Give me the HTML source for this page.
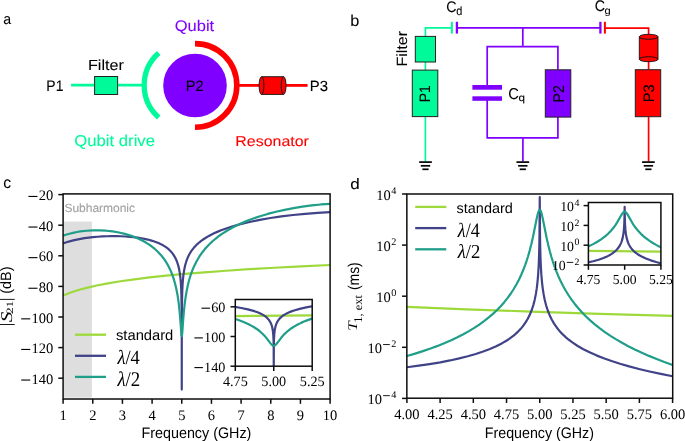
<!DOCTYPE html><html><head><meta charset="utf-8"><style>html,body{margin:0;padding:0;background:#fff;width:685px;height:441px;overflow:hidden}svg{display:block;will-change:transform}</style></head><body><svg width="685" height="441" viewBox="0 0 685 441"><defs><clipPath id="cc"><rect x="63.1" y="193.9" width="267.0" height="205.1"/></clipPath><clipPath id="ci"><rect x="235.3" y="299.5" width="76.89999999999998" height="66.69999999999999"/></clipPath><clipPath id="dc"><rect x="406.85" y="194.0" width="265.85" height="204.2"/></clipPath><clipPath id="di"><rect x="588.4" y="202.5" width="72.5" height="62.5"/></clipPath></defs><rect width="685" height="441" fill="#fff"/><line x1="71.1" y1="85.2" x2="143" y2="85.2" stroke="#00fa9a" stroke-width="2.7"/>
<rect x="94.6" y="76.5" width="23" height="18" fill="#00fa9a" stroke="#222" stroke-width="1"/>
<path d="M158.71,117.51 A43.0,43.0 0 0 1 158.71,53.09" fill="none" stroke="#00fa9a" stroke-width="5.3"/>
<circle cx="195" cy="85.5" r="31.8" fill="#7f00ff"/>
<path d="M195.00,43.60 A41.8,41.8 0 0 1 195.00,127.20" fill="none" stroke="#ff0000" stroke-width="5.6"/>
<line x1="238" y1="85.4" x2="260" y2="85.4" stroke="#ff0000" stroke-width="2.8"/>
<line x1="285" y1="85.4" x2="307.6" y2="85.4" stroke="#ff0000" stroke-width="2.8"/>
<path d="M261.5,76.7 L283.6,76.7 A2.4,8.85 0 0 1 283.6,94.4 L261.5,94.4 A2.4,8.85 0 0 1 261.5,76.7 Z" fill="#ff0000" stroke="#111" stroke-width="0.9"/><path d="M261.5,76.7 A2.4,8.85 0 0 1 261.5,94.4" fill="none" stroke="#111" stroke-width="0.9"/><path d="M283.6,76.7 A2.4,8.85 0 0 0 283.6,94.4" fill="none" stroke="#111" stroke-width="0.9"/>
<polyline points="425.4,36.5 425.4,27.9 452,27.9" fill="none" stroke="#00fa9a" stroke-width="1.7"/>
<line x1="425.4" y1="62" x2="425.4" y2="70.1" stroke="#00fa9a" stroke-width="1.7"/>
<line x1="425.4" y1="116.6" x2="425.4" y2="161.4" stroke="#00fa9a" stroke-width="1.7"/>
<line x1="451.9" y1="21.8" x2="451.9" y2="33.6" stroke="#00fa9a" stroke-width="2.0"/>
<line x1="456.9" y1="21.8" x2="456.9" y2="33.6" stroke="#7f00ff" stroke-width="2.3"/>
<line x1="456.9" y1="27.9" x2="600.4" y2="27.9" stroke="#7f00ff" stroke-width="1.7"/>
<line x1="522.8" y1="27.9" x2="522.8" y2="46.7" stroke="#7f00ff" stroke-width="1.7"/>
<polyline points="487.2,87 487.2,46.7 557.9,46.7 557.9,69.8" fill="none" stroke="#7f00ff" stroke-width="1.7"/>
<polyline points="487.2,98.5 487.2,137.8 557.9,137.8 557.9,117.1" fill="none" stroke="#7f00ff" stroke-width="1.7"/>
<line x1="522.9" y1="137.8" x2="522.9" y2="161.4" stroke="#7f00ff" stroke-width="1.7"/>
<rect x="472.4" y="85" width="29.6" height="4.7" fill="#7f00ff"/>
<rect x="472.4" y="96.3" width="29.6" height="4.5" fill="#7f00ff"/>
<line x1="600.4" y1="21.8" x2="600.4" y2="33.6" stroke="#7f00ff" stroke-width="2.3"/>
<line x1="604.9" y1="21.8" x2="604.9" y2="33.6" stroke="#ff0000" stroke-width="2.0"/>
<polyline points="604.9,28.2 648.6,28.2 648.6,37" fill="none" stroke="#ff0000" stroke-width="1.7"/>
<line x1="648.6" y1="59" x2="648.6" y2="69.7" stroke="#ff0000" stroke-width="1.7"/>
<line x1="648.6" y1="116.7" x2="648.6" y2="161.4" stroke="#ff0000" stroke-width="1.7"/>
<rect x="415.3" y="36.4" width="20.2" height="25.6" fill="#00fa9a" stroke="#222" stroke-width="1"/>
<rect x="412.3" y="70.1" width="25.5" height="46.5" fill="#00fa9a" stroke="#222" stroke-width="1"/>
<rect x="545.3" y="69.8" width="25.5" height="47.3" fill="#7f00ff" stroke="#222" stroke-width="1"/>
<rect x="635.3" y="69.7" width="25.4" height="47" fill="#ff0000" stroke="#222" stroke-width="1"/>
<path d="M639.3,36.8 A9.35,2.5 0 0 1 658,36.8 L658,59.2 A9.35,2.5 0 0 1 639.3,59.2 Z" fill="#ff0000" stroke="#111" stroke-width="0.9"/>
<path d="M639.3,36.8 A9.35,2.5 0 0 0 658,36.8" fill="none" stroke="#111" stroke-width="0.9"/>
<path d="M639.3,59.2 A9.35,2.5 0 0 1 658,59.2" fill="none" stroke="#111" stroke-width="0.9"/>
<line x1="419.15" y1="162.1" x2="431.85" y2="162.1" stroke="#000" stroke-width="1.7"/>
<line x1="420.8" y1="165.8" x2="430.2" y2="165.8" stroke="#000" stroke-width="1.7"/>
<line x1="422.4" y1="169.3" x2="428.6" y2="169.3" stroke="#000" stroke-width="1.7"/>
<line x1="516.45" y1="162.1" x2="529.15" y2="162.1" stroke="#000" stroke-width="1.7"/>
<line x1="518.1" y1="165.8" x2="527.5" y2="165.8" stroke="#000" stroke-width="1.7"/>
<line x1="519.7" y1="169.3" x2="525.9" y2="169.3" stroke="#000" stroke-width="1.7"/>
<line x1="642.05" y1="162.1" x2="654.75" y2="162.1" stroke="#000" stroke-width="1.7"/>
<line x1="643.7" y1="165.8" x2="653.1" y2="165.8" stroke="#000" stroke-width="1.7"/>
<line x1="645.3" y1="169.3" x2="651.5" y2="169.3" stroke="#000" stroke-width="1.7"/>
<rect x="63.8" y="221.6" width="28.10" height="176.00" fill="#dedede"/>
<polyline points="63.10,295.58 66.37,294.19 69.93,292.83 73.79,291.49 77.65,290.28 82.11,289.00 86.56,287.84 96.66,285.52 107.95,283.34 120.42,281.28 134.38,279.31 149.53,277.45 166.16,275.67 184.49,273.95 204.47,272.30 225.86,270.73 249.02,269.22 274.27,267.75 301.29,266.34 330.10,264.98" fill="none" stroke="#9dd93a" stroke-width="2.2" stroke-linejoin="round" clip-path="url(#cc)"/>
<polyline points="63.10,243.46 66.37,242.32 69.63,241.34 73.20,240.40 76.76,239.59 80.62,238.84 84.48,238.20 88.64,237.63 93.10,237.12 97.55,236.73 102.30,236.43 107.06,236.23 111.81,236.14 116.56,236.16 121.02,236.27 125.47,236.49 129.93,236.81 133.79,237.20 137.65,237.68 141.21,238.24 144.48,238.84 147.75,239.56 150.72,240.33 153.69,241.23 156.36,242.18 159.03,243.28 161.41,244.41 163.49,245.56 165.56,246.88 167.35,248.19 169.13,249.71 170.64,251.20 172.10,252.88 173.88,255.36 175.50,258.22 176.85,261.27 178.05,264.84 179.05,268.88 179.78,272.95 180.39,277.74 180.86,283.23 181.17,288.74 181.39,294.96 181.66,310.88 181.75,334.46 181.77,389.55 181.79,332.37 181.91,308.08 182.23,292.10 182.51,285.83 182.89,280.25 183.47,274.65 184.22,269.73 185.17,265.29 186.36,261.20 187.84,257.35 189.49,254.02 191.40,250.92 193.78,247.81 195.48,245.92 197.34,244.09 199.42,242.27 201.50,240.65 203.88,238.98 206.25,237.46 208.93,235.92 211.60,234.51 214.57,233.07 217.84,231.63 221.10,230.31 224.67,228.98 232.09,226.52 240.41,224.18 249.62,221.96 259.71,219.89 270.41,218.03 281.39,216.43 292.98,215.03 305.16,213.83 317.63,212.88 330.10,212.19" fill="none" stroke="#404387" stroke-width="2.2" stroke-linejoin="round" clip-path="url(#cc)"/>
<polyline points="63.10,235.71 65.77,234.78 68.45,233.96 74.09,232.56 77.06,231.98 80.33,231.45 86.56,230.73 93.10,230.36 99.63,230.36 106.17,230.72 112.70,231.45 118.94,232.52 124.88,233.90 130.52,235.58 133.49,236.63 136.16,237.68 141.21,239.98 143.59,241.22 145.96,242.57 148.34,244.06 150.42,245.48 152.50,247.03 154.58,248.72 157.84,251.72 160.81,254.90 163.49,258.23 166.16,262.14 168.24,265.72 170.32,269.93 172.25,274.64 173.88,279.43 175.17,283.97 176.41,289.28 177.45,294.70 178.34,300.43 179.05,306.06 179.67,312.04 180.31,319.57 181.31,333.17 181.56,335.45 181.67,335.97 181.77,336.12 181.88,335.91 181.99,335.35 182.23,333.10 183.30,318.35 183.98,310.50 184.63,304.40 185.46,298.07 186.60,291.22 187.72,285.76 189.03,280.48 190.51,275.50 192.33,270.43 194.37,265.64 196.75,260.95 199.42,256.46 202.39,252.21 205.36,248.51 208.63,244.95 212.49,241.26 216.95,237.54 219.32,235.74 222.00,233.86 227.34,230.46 232.98,227.30 239.22,224.22 245.75,221.38 252.59,218.75 260.01,216.23 267.73,213.93 276.05,211.76 284.66,209.82 293.57,208.10 302.48,206.65 311.69,205.43 320.90,204.47 330.10,203.78" fill="none" stroke="#1f9e89" stroke-width="2.2" stroke-linejoin="round" clip-path="url(#cc)"/>
<line x1="75" y1="334.7" x2="106" y2="334.7" stroke="#9dd93a" stroke-width="2.3"/>
<line x1="75" y1="355.8" x2="106" y2="355.8" stroke="#404387" stroke-width="2.3"/>
<line x1="75" y1="376.9" x2="106" y2="376.9" stroke="#1f9e89" stroke-width="2.3"/>
<rect x="235.3" y="299.5" width="76.89999999999998" height="66.69999999999999" fill="#fff"/>
<polyline points="233.76,316.07 313.74,315.40" fill="none" stroke="#9dd93a" stroke-width="2.2" stroke-linejoin="round" clip-path="url(#ci)"/>
<polyline points="233.76,306.72 241.29,307.98 247.87,309.36 253.48,310.87 256.04,311.72 258.28,312.56 260.37,313.47 262.13,314.36 263.89,315.41 265.34,316.41 266.62,317.46 267.90,318.73 268.86,319.87 269.82,321.27 270.48,322.45 271.11,323.81 271.60,325.13 272.09,326.81 272.77,330.17 273.25,334.54 273.52,339.59 273.67,345.98 273.75,371.71 273.83,345.98 273.98,339.58 274.25,334.53 274.73,330.15 275.41,326.78 275.90,325.09 276.39,323.76 277.02,322.39 277.68,321.20 278.64,319.78 279.60,318.61 280.88,317.32 282.16,316.25 283.61,315.21 285.37,314.14 287.13,313.21 289.22,312.26 291.46,311.37 294.02,310.48 299.63,308.86 306.21,307.35 313.74,305.94" fill="none" stroke="#404387" stroke-width="2.2" stroke-linejoin="round" clip-path="url(#ci)"/>
<polyline points="233.76,318.54 240.49,320.83 243.54,322.01 246.42,323.25 249.15,324.54 251.71,325.88 254.12,327.28 256.36,328.73 259.73,331.25 262.77,333.97 264.47,335.73 266.14,337.65 270.30,343.09 271.36,344.35 272.00,344.98 272.60,345.42 273.19,345.69 273.75,345.78 274.31,345.69 274.90,345.40 275.50,344.95 276.14,344.31 277.20,343.04 281.36,337.55 283.03,335.60 284.73,333.82 287.77,331.05 291.14,328.49 293.38,327.01 295.79,325.58 298.35,324.20 301.08,322.88 303.96,321.60 307.01,320.37 313.74,317.99" fill="none" stroke="#1f9e89" stroke-width="2.2" stroke-linejoin="round" clip-path="url(#ci)"/>
<polyline points="406.90,306.93 466.60,309.29 530.85,311.58 599.30,313.79 672.60,315.93" fill="none" stroke="#9dd93a" stroke-width="2.2" stroke-linejoin="round" clip-path="url(#dc)"/>
<polyline points="406.90,367.23 418.72,365.71 429.66,364.11 440.30,362.32 450.05,360.45 459.21,358.44 467.78,356.29 475.76,354.00 483.15,351.57 489.92,349.01 496.16,346.27 501.77,343.42 506.80,340.46 509.16,338.89 511.52,337.19 513.59,335.58 515.66,333.82 517.73,331.90 519.50,330.10 521.27,328.14 522.76,326.33 525.42,322.65 527.78,318.73 529.87,314.54 531.73,309.97 533.40,304.87 534.74,299.65 535.89,293.90 536.78,288.14 537.53,281.64 538.16,274.29 538.65,266.21 539.02,256.98 539.30,246.64 539.49,234.18 539.75,197.06 540.01,234.19 540.20,246.67 540.48,257.03 540.85,266.28 541.34,274.40 541.97,281.79 542.72,288.34 543.61,294.16 544.76,299.98 546.10,305.29 547.77,310.51 549.63,315.20 551.72,319.53 554.08,323.61 556.74,327.47 558.23,329.38 560.00,331.46 561.77,333.38 563.84,335.43 565.91,337.33 567.98,339.08 570.34,340.94 572.70,342.66 577.73,345.96 583.34,349.19 589.58,352.34 596.35,355.36 603.74,358.29 611.56,361.07 619.99,363.76 629.15,366.40 638.91,368.94 649.55,371.46 660.78,373.89 672.60,376.23" fill="none" stroke="#404387" stroke-width="2.2" stroke-linejoin="round" clip-path="url(#dc)"/>
<polyline points="406.90,356.01 415.18,353.59 422.86,351.16 430.54,348.53 437.64,345.90 444.73,343.04 451.23,340.21 457.44,337.27 463.35,334.24 468.97,331.11 474.29,327.88 479.31,324.56 484.33,320.94 488.77,317.45 493.20,313.62 497.34,309.69 501.18,305.67 504.43,301.94 507.68,297.85 510.64,293.75 513.59,289.23 516.25,284.71 518.91,279.67 521.27,274.68 523.35,269.77 525.12,265.12 526.60,260.87 528.08,256.21 529.55,251.08 531.30,244.30 532.80,237.78 536.62,219.04 537.58,214.74 538.16,212.58 538.72,211.04 539.25,210.13 539.49,209.91 539.75,209.85 540.01,209.93 540.25,210.16 540.78,211.11 541.34,212.69 541.92,214.88 542.88,219.25 546.70,238.24 548.20,244.86 549.95,251.76 551.42,256.99 552.90,261.75 554.38,266.10 556.15,270.87 558.23,275.92 560.59,281.06 562.95,285.72 565.61,290.48 568.57,295.25 571.52,299.58 574.77,303.93 578.13,308.03 581.87,312.21 586.00,316.44 590.44,320.59 595.06,324.57 599.89,328.39 604.92,332.06 610.53,335.85 616.15,339.36 622.06,342.80 628.27,346.16 634.77,349.44 641.86,352.78 648.96,355.89 656.64,359.05 664.32,362.02 672.60,365.01" fill="none" stroke="#1f9e89" stroke-width="2.2" stroke-linejoin="round" clip-path="url(#dc)"/>
<line x1="415.2" y1="206.9" x2="446.3" y2="206.9" stroke="#9dd93a" stroke-width="2.3"/>
<line x1="415.2" y1="228.1" x2="446.3" y2="228.1" stroke="#404387" stroke-width="2.3"/>
<line x1="415.2" y1="249.3" x2="446.3" y2="249.3" stroke="#1f9e89" stroke-width="2.3"/>
<rect x="588.4" y="202.5" width="72.5" height="62.5" fill="#fff"/>
<polyline points="586.95,250.82 662.35,251.71" fill="none" stroke="#9dd93a" stroke-width="2.2" stroke-linejoin="round" clip-path="url(#di)"/>
<polyline points="586.95,262.73 593.15,261.27 598.58,259.71 603.42,258.00 607.65,256.14 609.46,255.20 611.28,254.13 612.79,253.11 614.30,251.96 615.66,250.77 616.77,249.65 617.91,248.32 618.89,246.98 619.72,245.65 620.44,244.31 621.10,242.84 621.73,241.18 622.28,239.39 622.72,237.61 623.45,233.58 623.94,229.11 624.27,223.70 624.48,217.36 624.65,206.79 624.82,217.36 625.03,223.71 625.36,229.13 625.85,233.61 626.58,237.65 627.57,241.25 628.20,242.93 628.86,244.41 629.58,245.76 630.41,247.12 631.39,248.48 632.53,249.84 633.64,250.98 635.00,252.21 636.51,253.40 638.02,254.44 639.84,255.56 641.65,256.55 645.88,258.51 650.72,260.33 656.15,262.02 662.35,263.63" fill="none" stroke="#404387" stroke-width="2.2" stroke-linejoin="round" clip-path="url(#di)"/>
<polyline points="586.95,247.06 590.12,245.62 593.15,244.11 596.02,242.55 598.58,241.01 601.06,239.39 603.42,237.68 605.69,235.87 607.80,234.00 610.98,230.77 613.85,227.29 615.43,225.09 617.02,222.64 621.23,215.30 622.28,213.64 622.91,212.80 623.52,212.20 624.10,211.85 624.65,211.74 625.20,211.86 625.78,212.23 626.39,212.84 627.02,213.69 628.07,215.38 632.28,222.82 633.87,225.31 635.45,227.55 638.32,231.10 641.50,234.40 643.61,236.32 645.88,238.19 648.24,239.95 650.72,241.63 653.28,243.23 656.15,244.86 659.18,246.43 662.35,247.95" fill="none" stroke="#1f9e89" stroke-width="2.2" stroke-linejoin="round" clip-path="url(#di)"/>
<line x1="58.300000000000004" y1="194.6" x2="63.1" y2="194.6" stroke="#0d0d0d" stroke-width="1.5"/>
<line x1="58.300000000000004" y1="225.2" x2="63.1" y2="225.2" stroke="#0d0d0d" stroke-width="1.5"/>
<line x1="58.300000000000004" y1="255.8" x2="63.1" y2="255.8" stroke="#0d0d0d" stroke-width="1.5"/>
<line x1="58.300000000000004" y1="286.4" x2="63.1" y2="286.4" stroke="#0d0d0d" stroke-width="1.5"/>
<line x1="58.300000000000004" y1="317.0" x2="63.1" y2="317.0" stroke="#0d0d0d" stroke-width="1.5"/>
<line x1="58.300000000000004" y1="347.6" x2="63.1" y2="347.6" stroke="#0d0d0d" stroke-width="1.5"/>
<line x1="58.300000000000004" y1="378.2" x2="63.1" y2="378.2" stroke="#0d0d0d" stroke-width="1.5"/>
<line x1="63.1" y1="399.0" x2="63.1" y2="403.8" stroke="#0d0d0d" stroke-width="1.5"/>
<line x1="92.77" y1="399.0" x2="92.77" y2="403.8" stroke="#0d0d0d" stroke-width="1.5"/>
<line x1="122.43" y1="399.0" x2="122.43" y2="403.8" stroke="#0d0d0d" stroke-width="1.5"/>
<line x1="152.1" y1="399.0" x2="152.1" y2="403.8" stroke="#0d0d0d" stroke-width="1.5"/>
<line x1="181.77" y1="399.0" x2="181.77" y2="403.8" stroke="#0d0d0d" stroke-width="1.5"/>
<line x1="211.44" y1="399.0" x2="211.44" y2="403.8" stroke="#0d0d0d" stroke-width="1.5"/>
<line x1="241.1" y1="399.0" x2="241.1" y2="403.8" stroke="#0d0d0d" stroke-width="1.5"/>
<line x1="270.77" y1="399.0" x2="270.77" y2="403.8" stroke="#0d0d0d" stroke-width="1.5"/>
<line x1="300.44" y1="399.0" x2="300.44" y2="403.8" stroke="#0d0d0d" stroke-width="1.5"/>
<line x1="330.1" y1="399.0" x2="330.1" y2="403.8" stroke="#0d0d0d" stroke-width="1.5"/>
<line x1="230.5" y1="306.8" x2="235.3" y2="306.8" stroke="#0d0d0d" stroke-width="1.5"/>
<line x1="230.5" y1="336.5" x2="235.3" y2="336.5" stroke="#0d0d0d" stroke-width="1.5"/>
<line x1="230.5" y1="366.2" x2="235.3" y2="366.2" stroke="#0d0d0d" stroke-width="1.5"/>
<line x1="235.3" y1="366.2" x2="235.3" y2="371.0" stroke="#0d0d0d" stroke-width="1.5"/>
<line x1="273.75" y1="366.2" x2="273.75" y2="371.0" stroke="#0d0d0d" stroke-width="1.5"/>
<line x1="312.2" y1="366.2" x2="312.2" y2="371.0" stroke="#0d0d0d" stroke-width="1.5"/>
<line x1="402.05" y1="194.0" x2="406.85" y2="194.0" stroke="#0d0d0d" stroke-width="1.5"/>
<line x1="402.05" y1="245.1" x2="406.85" y2="245.1" stroke="#0d0d0d" stroke-width="1.5"/>
<line x1="402.05" y1="296.2" x2="406.85" y2="296.2" stroke="#0d0d0d" stroke-width="1.5"/>
<line x1="402.05" y1="347.3" x2="406.85" y2="347.3" stroke="#0d0d0d" stroke-width="1.5"/>
<line x1="402.05" y1="398.4" x2="406.85" y2="398.4" stroke="#0d0d0d" stroke-width="1.5"/>
<line x1="406.9" y1="398.2" x2="406.9" y2="403.0" stroke="#0d0d0d" stroke-width="1.5"/>
<line x1="440.11" y1="398.2" x2="440.11" y2="403.0" stroke="#0d0d0d" stroke-width="1.5"/>
<line x1="473.32" y1="398.2" x2="473.32" y2="403.0" stroke="#0d0d0d" stroke-width="1.5"/>
<line x1="506.54" y1="398.2" x2="506.54" y2="403.0" stroke="#0d0d0d" stroke-width="1.5"/>
<line x1="539.75" y1="398.2" x2="539.75" y2="403.0" stroke="#0d0d0d" stroke-width="1.5"/>
<line x1="572.96" y1="398.2" x2="572.96" y2="403.0" stroke="#0d0d0d" stroke-width="1.5"/>
<line x1="606.17" y1="398.2" x2="606.17" y2="403.0" stroke="#0d0d0d" stroke-width="1.5"/>
<line x1="639.39" y1="398.2" x2="639.39" y2="403.0" stroke="#0d0d0d" stroke-width="1.5"/>
<line x1="672.6" y1="398.2" x2="672.6" y2="403.0" stroke="#0d0d0d" stroke-width="1.5"/>
<line x1="583.6" y1="205.6" x2="588.4" y2="205.6" stroke="#0d0d0d" stroke-width="1.5"/>
<line x1="583.6" y1="225.4" x2="588.4" y2="225.4" stroke="#0d0d0d" stroke-width="1.5"/>
<line x1="583.6" y1="245.2" x2="588.4" y2="245.2" stroke="#0d0d0d" stroke-width="1.5"/>
<line x1="583.6" y1="265.0" x2="588.4" y2="265.0" stroke="#0d0d0d" stroke-width="1.5"/>
<line x1="588.4" y1="265.0" x2="588.4" y2="269.8" stroke="#0d0d0d" stroke-width="1.5"/>
<line x1="624.65" y1="265.0" x2="624.65" y2="269.8" stroke="#0d0d0d" stroke-width="1.5"/>
<line x1="660.9" y1="265.0" x2="660.9" y2="269.8" stroke="#0d0d0d" stroke-width="1.5"/>
<rect x="63.1" y="193.9" width="267.00" height="205.10" fill="none" stroke="#0d0d0d" stroke-width="1.5"/>
<rect x="235.3" y="299.5" width="76.90" height="66.70" fill="none" stroke="#0d0d0d" stroke-width="1.5"/>
<rect x="588.4" y="202.5" width="72.50" height="62.50" fill="none" stroke="#0d0d0d" stroke-width="1.5"/>
<rect x="406.85" y="194.0" width="265.85" height="204.20" fill="none" stroke="#0d0d0d" stroke-width="1.5"/>
<line x1="-1" y1="299.4" x2="14.7" y2="299.4" stroke="#000" stroke-width="0.9"/>
<line x1="-1" y1="324.5" x2="14.7" y2="324.5" stroke="#000" stroke-width="0.9"/>
<text x="0" y="0" font-size="100" font-family='"Liberation Sans", sans-serif' fill="#000000" stroke="#000000" stroke-width="0.346" stroke-linejoin="round" text-rendering="geometricPrecision" transform="translate(3.157,24.237) scale(0.14191,0.14746)" >a</text>
<text x="0" y="0" font-size="100" font-family='"Liberation Sans", sans-serif' fill="#000000" stroke="#000000" stroke-width="0.310" stroke-linejoin="round" text-rendering="geometricPrecision" transform="translate(350.278,25.674) scale(0.16268,0.15939)" >b</text>
<text x="0" y="0" font-size="100" font-family='"Liberation Sans", sans-serif' fill="#000000" stroke="#000000" stroke-width="0.314" stroke-linejoin="round" text-rendering="geometricPrecision" transform="translate(3.130,188.073) scale(0.15692,0.16124)" >c</text>
<text x="0" y="0" font-size="100" font-family='"Liberation Sans", sans-serif' fill="#000000" stroke="#000000" stroke-width="0.311" stroke-linejoin="round" text-rendering="geometricPrecision" transform="translate(350.343,189.022) scale(0.17118,0.15028)" >d</text>
<text x="0" y="0" font-size="100" font-family='"Liberation Sans", sans-serif' fill="#000000" stroke="#000000" stroke-width="0.547" stroke-linejoin="round" text-rendering="geometricPrecision" transform="translate(46.333,90.800) scale(0.13976,0.15301)" >P1</text>
<text x="0" y="0" font-size="100" font-family='"Liberation Sans", sans-serif' fill="#000000" stroke="#000000" stroke-width="0.520" stroke-linejoin="round" text-rendering="geometricPrecision" transform="translate(88.012,69.900) scale(0.16103,0.14658)" >Filter</text>
<text x="0" y="0" font-size="100" font-family='"Liberation Sans", sans-serif' fill="#000000" stroke="#000000" stroke-width="0.539" stroke-linejoin="round" text-rendering="geometricPrecision" transform="translate(185.726,91.100) scale(0.14679,0.15000)" >P2</text>
<text x="0" y="0" font-size="100" font-family='"Liberation Sans", sans-serif' fill="#000000" stroke="#000000" stroke-width="0.539" stroke-linejoin="round" text-rendering="geometricPrecision" transform="translate(309.707,90.652) scale(0.14909,0.14789)" >P3</text>
<text x="0" y="0" font-size="100" font-family='"Liberation Sans", sans-serif' fill="#7f00ff" stroke="#7f00ff" stroke-width="0.502" stroke-linejoin="round" text-rendering="geometricPrecision" transform="translate(174.674,31.300) scale(0.16524,0.15342)" >Qubit</text>
<text x="0" y="0" font-size="100" font-family='"Liberation Sans", sans-serif' fill="#00fa9a" stroke="#00fa9a" stroke-width="0.493" stroke-linejoin="round" text-rendering="geometricPrecision" transform="translate(74.315,146.100) scale(0.16684,0.15775)" >Qubit drive</text>
<text x="0" y="0" font-size="100" font-family='"Liberation Sans", sans-serif' fill="#ff0000" stroke="#ff0000" stroke-width="0.528" stroke-linejoin="round" text-rendering="geometricPrecision" transform="translate(235.249,145.802) scale(0.15962,0.14370)" >Resonator</text>
<text x="0" y="0" font-size="100" font-family='"Liberation Sans", sans-serif' fill="#000000" stroke="#000000" stroke-width="0.518" stroke-linejoin="round" text-rendering="geometricPrecision" transform="translate(407.051,66.581) rotate(-90) scale(0.16009,0.14865)" >Filter</text>
<text x="0" y="0" font-size="100" font-family='"Liberation Sans", sans-serif' fill="#000000" stroke="#000000" stroke-width="0.551" stroke-linejoin="round" text-rendering="geometricPrecision" transform="translate(430.179,102.233) rotate(-90) scale(0.13874,0.15139)" >P1</text>
<text x="0" y="0" font-size="100" font-family='"Liberation Sans", sans-serif' fill="#000000" stroke="#000000" stroke-width="0.537" stroke-linejoin="round" text-rendering="geometricPrecision" transform="translate(563.757,102.401) rotate(-90) scale(0.14198,0.15624)" >P2</text>
<text x="0" y="0" font-size="100" font-family='"Liberation Sans", sans-serif' fill="#000000" stroke="#000000" stroke-width="0.537" stroke-linejoin="round" text-rendering="geometricPrecision" transform="translate(653.557,102.163) rotate(-90) scale(0.14494,0.15276)" >P3</text>
<text x="0" y="0" font-size="100" font-family='"Liberation Sans", sans-serif' fill="#000000" stroke="#000000" stroke-width="0.543" stroke-linejoin="round" text-rendering="geometricPrecision" transform="translate(446.194,11.846) scale(0.14127,0.15352)" >C</text>
<text x="0" y="0" font-size="100" font-family='"Liberation Sans", sans-serif' fill="#000000" stroke="#000000" stroke-width="0.702" stroke-linejoin="round" text-rendering="geometricPrecision" transform="translate(456.372,14.644) scale(0.10913,0.11886)" >d</text>
<text x="0" y="0" font-size="100" font-family='"Liberation Sans", sans-serif' fill="#000000" stroke="#000000" stroke-width="0.545" stroke-linejoin="round" text-rendering="geometricPrecision" transform="translate(594.640,10.514) scale(0.14117,0.15261)" >C</text>
<text x="0" y="0" font-size="100" font-family='"Liberation Sans", sans-serif' fill="#000000" stroke="#000000" stroke-width="0.753" stroke-linejoin="round" text-rendering="geometricPrecision" transform="translate(604.561,13.722) scale(0.11164,0.10071)" >g</text>
<text x="0" y="0" font-size="100" font-family='"Liberation Sans", sans-serif' fill="#000000" stroke="#000000" stroke-width="0.529" stroke-linejoin="round" text-rendering="geometricPrecision" transform="translate(508.170,98.844) scale(0.14603,0.15634)" >C</text>
<text x="0" y="0" font-size="100" font-family='"Liberation Sans", sans-serif' fill="#000000" stroke="#000000" stroke-width="0.726" stroke-linejoin="round" text-rendering="geometricPrecision" transform="translate(518.526,101.372) scale(0.11740,0.10299)" >q</text>
<text x="0" y="0" font-size="100" font-family='"Liberation Sans", sans-serif' fill="#a0a0a0" stroke="#a0a0a0" stroke-width="0.838" stroke-linejoin="round" text-rendering="geometricPrecision" transform="translate(64.418,211.713) scale(0.11971,0.11884)" >Subharmonic</text>
<text x="0" y="0" font-size="100" font-family='"Liberation Sans", sans-serif' fill="#000000" text-rendering="geometricPrecision" transform="translate(115.973,340.126) scale(0.14735,0.14510)" >standard</text>
<text x="0" y="0" font-size="100" font-family='"Liberation Serif", serif' fill="#000000" text-rendering="geometricPrecision" transform="translate(117.469,364.199) scale(0.18430,0.20141)" ><tspan font-style="italic">λ</tspan>/4</text>
<text x="0" y="0" font-size="100" font-family='"Liberation Serif", serif' fill="#000000" text-rendering="geometricPrecision" transform="translate(117.464,385.520) scale(0.18834,0.20897)" ><tspan font-style="italic">λ</tspan>/2</text>
<text x="0" y="0" font-size="100" font-family='"Liberation Sans", sans-serif' fill="#000000" text-rendering="geometricPrecision" transform="translate(141.583,438.142) scale(0.14307,0.15358)" >Frequency (GHz)</text>
<text x="0" y="0" font-size="100" font-family='"Liberation Serif", serif' fill="#000000" text-rendering="geometricPrecision" transform="translate(11.549,322.195) rotate(-90) scale(0.21238,0.16404)" ><tspan font-style="italic">S</tspan></text>
<text x="0" y="0" font-size="100" font-family='"Liberation Serif", serif' fill="#000000" text-rendering="geometricPrecision" transform="translate(13.201,314.078) rotate(-90) scale(0.13375,0.09681)" >21</text>
<text x="0" y="0" font-size="100" font-family='"Liberation Sans", sans-serif' fill="#000000" text-rendering="geometricPrecision" transform="translate(10.997,293.786) rotate(-90) scale(0.14427,0.14971)" >(dB)</text>
<text x="0" y="0" font-size="100" font-family='"Liberation Sans", sans-serif' fill="#000000" text-rendering="geometricPrecision" transform="translate(456.535,212.520) scale(0.14478,0.14356)" >standard</text>
<text x="0" y="0" font-size="100" font-family='"Liberation Serif", serif' fill="#000000" text-rendering="geometricPrecision" transform="translate(457.818,237.157) scale(0.18055,0.20406)" ><tspan font-style="italic">λ</tspan>/4</text>
<text x="0" y="0" font-size="100" font-family='"Liberation Serif", serif' fill="#000000" text-rendering="geometricPrecision" transform="translate(457.738,257.894) scale(0.18613,0.19844)" ><tspan font-style="italic">λ</tspan>/2</text>
<text x="0" y="0" font-size="100" font-family='"Liberation Sans", sans-serif' fill="#000000" text-rendering="geometricPrecision" transform="translate(484.842,438.132) scale(0.14218,0.15341)" >Frequency (GHz)</text>
<text x="0" y="0" font-size="100" font-family='"Liberation Serif", serif' fill="#000000" text-rendering="geometricPrecision" transform="translate(356.501,330.902) rotate(-90) scale(0.17512,0.13124)" ><tspan font-style="italic">T</tspan></text>
<text x="0" y="0" font-size="100" font-family='"Liberation Serif", serif' fill="#000000" text-rendering="geometricPrecision" transform="translate(361.771,322.659) rotate(-90) scale(0.12404,0.11930)" >1, ext</text>
<text x="0" y="0" font-size="100" font-family='"Liberation Sans", sans-serif' fill="#000000" text-rendering="geometricPrecision" transform="translate(359.061,290.073) rotate(-90) scale(0.13922,0.15585)" >(ms)</text>
<text x="0" y="0" font-size="14.5" font-family='"Liberation Serif", serif' text-anchor="end" text-rendering="geometricPrecision" transform="translate(53.30,200.10) scale(1.0,1)">20</text>
<line x1="28.45" y1="196.45" x2="37.50" y2="196.45" stroke="#000" stroke-width="1.1"/>
<text x="0" y="0" font-size="14.5" font-family='"Liberation Serif", serif' text-anchor="end" text-rendering="geometricPrecision" transform="translate(53.30,230.70) scale(1.0,1)">40</text>
<line x1="28.45" y1="227.05" x2="37.50" y2="227.05" stroke="#000" stroke-width="1.1"/>
<text x="0" y="0" font-size="14.5" font-family='"Liberation Serif", serif' text-anchor="end" text-rendering="geometricPrecision" transform="translate(53.30,261.30) scale(1.0,1)">60</text>
<line x1="28.45" y1="257.65" x2="37.50" y2="257.65" stroke="#000" stroke-width="1.1"/>
<text x="0" y="0" font-size="14.5" font-family='"Liberation Serif", serif' text-anchor="end" text-rendering="geometricPrecision" transform="translate(53.30,291.90) scale(1.0,1)">80</text>
<line x1="28.45" y1="288.25" x2="37.50" y2="288.25" stroke="#000" stroke-width="1.1"/>
<text x="0" y="0" font-size="14.5" font-family='"Liberation Serif", serif' text-anchor="end" text-rendering="geometricPrecision" transform="translate(53.30,322.50) scale(1.0,1)">100</text>
<line x1="21.20" y1="318.85" x2="30.25" y2="318.85" stroke="#000" stroke-width="1.1"/>
<text x="0" y="0" font-size="14.5" font-family='"Liberation Serif", serif' text-anchor="end" text-rendering="geometricPrecision" transform="translate(53.30,353.10) scale(1.0,1)">120</text>
<line x1="21.20" y1="349.45" x2="30.25" y2="349.45" stroke="#000" stroke-width="1.1"/>
<text x="0" y="0" font-size="14.5" font-family='"Liberation Serif", serif' text-anchor="end" text-rendering="geometricPrecision" transform="translate(53.30,383.70) scale(1.0,1)">140</text>
<line x1="21.20" y1="380.05" x2="30.25" y2="380.05" stroke="#000" stroke-width="1.1"/>
<text x="0" y="0" font-size="14.5" font-family='"Liberation Serif", serif' text-anchor="middle" text-rendering="geometricPrecision" transform="translate(63.10,419.80) scale(1.0,1)">1</text>
<text x="0" y="0" font-size="14.5" font-family='"Liberation Serif", serif' text-anchor="middle" text-rendering="geometricPrecision" transform="translate(92.77,419.80) scale(1.0,1)">2</text>
<text x="0" y="0" font-size="14.5" font-family='"Liberation Serif", serif' text-anchor="middle" text-rendering="geometricPrecision" transform="translate(122.43,419.80) scale(1.0,1)">3</text>
<text x="0" y="0" font-size="14.5" font-family='"Liberation Serif", serif' text-anchor="middle" text-rendering="geometricPrecision" transform="translate(152.10,419.80) scale(1.0,1)">4</text>
<text x="0" y="0" font-size="14.5" font-family='"Liberation Serif", serif' text-anchor="middle" text-rendering="geometricPrecision" transform="translate(181.77,419.80) scale(1.0,1)">5</text>
<text x="0" y="0" font-size="14.5" font-family='"Liberation Serif", serif' text-anchor="middle" text-rendering="geometricPrecision" transform="translate(211.44,419.80) scale(1.0,1)">6</text>
<text x="0" y="0" font-size="14.5" font-family='"Liberation Serif", serif' text-anchor="middle" text-rendering="geometricPrecision" transform="translate(241.10,419.80) scale(1.0,1)">7</text>
<text x="0" y="0" font-size="14.5" font-family='"Liberation Serif", serif' text-anchor="middle" text-rendering="geometricPrecision" transform="translate(270.77,419.80) scale(1.0,1)">8</text>
<text x="0" y="0" font-size="14.5" font-family='"Liberation Serif", serif' text-anchor="middle" text-rendering="geometricPrecision" transform="translate(300.44,419.80) scale(1.0,1)">9</text>
<text x="0" y="0" font-size="14.5" font-family='"Liberation Serif", serif' text-anchor="middle" text-rendering="geometricPrecision" transform="translate(330.10,419.80) scale(1.0,1)">10</text>
<text x="0" y="0" font-size="14.2" font-family='"Liberation Serif", serif' text-anchor="end" text-rendering="geometricPrecision" transform="translate(225.40,312.20) scale(1.0,1)">60</text>
<line x1="201.50" y1="308.20" x2="210.00" y2="308.20" stroke="#000" stroke-width="1.1"/>
<text x="0" y="0" font-size="14.2" font-family='"Liberation Serif", serif' text-anchor="end" text-rendering="geometricPrecision" transform="translate(225.40,341.90) scale(1.0,1)">100</text>
<line x1="194.40" y1="337.90" x2="202.90" y2="337.90" stroke="#000" stroke-width="1.1"/>
<text x="0" y="0" font-size="14.2" font-family='"Liberation Serif", serif' text-anchor="end" text-rendering="geometricPrecision" transform="translate(225.40,371.60) scale(1.0,1)">140</text>
<line x1="194.40" y1="367.60" x2="202.90" y2="367.60" stroke="#000" stroke-width="1.1"/>
<text x="0" y="0" font-size="14.2" font-family='"Liberation Serif", serif' text-anchor="middle" text-rendering="geometricPrecision" transform="translate(235.30,385.50) scale(1.0,1)">4.75</text>
<text x="0" y="0" font-size="14.2" font-family='"Liberation Serif", serif' text-anchor="middle" text-rendering="geometricPrecision" transform="translate(273.75,385.50) scale(1.0,1)">5.00</text>
<text x="0" y="0" font-size="14.2" font-family='"Liberation Serif", serif' text-anchor="middle" text-rendering="geometricPrecision" transform="translate(312.20,385.50) scale(1.0,1)">5.25</text>
<text x="0" y="0" font-size="14.5" font-family='"Liberation Serif", serif' text-anchor="middle" text-rendering="geometricPrecision" transform="translate(406.90,418.80) scale(1.0,1)">4.00</text>
<text x="0" y="0" font-size="14.5" font-family='"Liberation Serif", serif' text-anchor="middle" text-rendering="geometricPrecision" transform="translate(440.11,418.80) scale(1.0,1)">4.25</text>
<text x="0" y="0" font-size="14.5" font-family='"Liberation Serif", serif' text-anchor="middle" text-rendering="geometricPrecision" transform="translate(473.32,418.80) scale(1.0,1)">4.50</text>
<text x="0" y="0" font-size="14.5" font-family='"Liberation Serif", serif' text-anchor="middle" text-rendering="geometricPrecision" transform="translate(506.54,418.80) scale(1.0,1)">4.75</text>
<text x="0" y="0" font-size="14.5" font-family='"Liberation Serif", serif' text-anchor="middle" text-rendering="geometricPrecision" transform="translate(539.75,418.80) scale(1.0,1)">5.00</text>
<text x="0" y="0" font-size="14.5" font-family='"Liberation Serif", serif' text-anchor="middle" text-rendering="geometricPrecision" transform="translate(572.96,418.80) scale(1.0,1)">5.25</text>
<text x="0" y="0" font-size="14.5" font-family='"Liberation Serif", serif' text-anchor="middle" text-rendering="geometricPrecision" transform="translate(606.17,418.80) scale(1.0,1)">5.50</text>
<text x="0" y="0" font-size="14.5" font-family='"Liberation Serif", serif' text-anchor="middle" text-rendering="geometricPrecision" transform="translate(639.39,418.80) scale(1.0,1)">5.75</text>
<text x="0" y="0" font-size="14.5" font-family='"Liberation Serif", serif' text-anchor="middle" text-rendering="geometricPrecision" transform="translate(672.60,418.80) scale(1.0,1)">6.00</text>
<text x="0" y="0" font-size="10.2" font-family='"Liberation Serif", serif' text-anchor="end" text-rendering="geometricPrecision" transform="translate(396.30,194.05) scale(1.0,1)">4</text>
<text x="0" y="0" font-size="14.5" font-family='"Liberation Serif", serif' text-anchor="end" text-rendering="geometricPrecision" transform="translate(390.80,199.65) scale(1.0,1)">10</text>
<text x="0" y="0" font-size="10.2" font-family='"Liberation Serif", serif' text-anchor="end" text-rendering="geometricPrecision" transform="translate(396.30,245.15) scale(1.0,1)">2</text>
<text x="0" y="0" font-size="14.5" font-family='"Liberation Serif", serif' text-anchor="end" text-rendering="geometricPrecision" transform="translate(390.80,250.75) scale(1.0,1)">10</text>
<text x="0" y="0" font-size="10.2" font-family='"Liberation Serif", serif' text-anchor="end" text-rendering="geometricPrecision" transform="translate(396.30,296.25) scale(1.0,1)">0</text>
<text x="0" y="0" font-size="14.5" font-family='"Liberation Serif", serif' text-anchor="end" text-rendering="geometricPrecision" transform="translate(390.80,301.85) scale(1.0,1)">10</text>
<text x="0" y="0" font-size="10.2" font-family='"Liberation Serif", serif' text-anchor="end" text-rendering="geometricPrecision" transform="translate(396.30,347.35) scale(1.0,1)">2</text>
<line x1="383.10" y1="344.55" x2="389.80" y2="344.55" stroke="#000" stroke-width="0.9"/>
<text x="0" y="0" font-size="14.5" font-family='"Liberation Serif", serif' text-anchor="end" text-rendering="geometricPrecision" transform="translate(381.90,352.95) scale(1.0,1)">10</text>
<text x="0" y="0" font-size="10.2" font-family='"Liberation Serif", serif' text-anchor="end" text-rendering="geometricPrecision" transform="translate(396.30,398.45) scale(1.0,1)">4</text>
<line x1="383.10" y1="395.65" x2="389.80" y2="395.65" stroke="#000" stroke-width="0.9"/>
<text x="0" y="0" font-size="14.5" font-family='"Liberation Serif", serif' text-anchor="end" text-rendering="geometricPrecision" transform="translate(381.90,404.05) scale(1.0,1)">10</text>
<text x="0" y="0" font-size="9.8" font-family='"Liberation Serif", serif' text-anchor="end" text-rendering="geometricPrecision" transform="translate(579.40,205.70) scale(1.0,1)">4</text>
<text x="0" y="0" font-size="13.8" font-family='"Liberation Serif", serif' text-anchor="end" text-rendering="geometricPrecision" transform="translate(574.00,211.00) scale(1.0,1)">10</text>
<text x="0" y="0" font-size="9.8" font-family='"Liberation Serif", serif' text-anchor="end" text-rendering="geometricPrecision" transform="translate(579.40,225.50) scale(1.0,1)">2</text>
<text x="0" y="0" font-size="13.8" font-family='"Liberation Serif", serif' text-anchor="end" text-rendering="geometricPrecision" transform="translate(574.00,230.80) scale(1.0,1)">10</text>
<text x="0" y="0" font-size="9.8" font-family='"Liberation Serif", serif' text-anchor="end" text-rendering="geometricPrecision" transform="translate(579.40,245.30) scale(1.0,1)">0</text>
<text x="0" y="0" font-size="13.8" font-family='"Liberation Serif", serif' text-anchor="end" text-rendering="geometricPrecision" transform="translate(574.00,250.60) scale(1.0,1)">10</text>
<text x="0" y="0" font-size="9.8" font-family='"Liberation Serif", serif' text-anchor="end" text-rendering="geometricPrecision" transform="translate(579.40,265.10) scale(1.0,1)">2</text>
<line x1="566.80" y1="262.40" x2="573.20" y2="262.40" stroke="#000" stroke-width="0.9"/>
<text x="0" y="0" font-size="13.8" font-family='"Liberation Serif", serif' text-anchor="end" text-rendering="geometricPrecision" transform="translate(565.70,270.40) scale(1.0,1)">10</text>
<text x="0" y="0" font-size="13.6" font-family='"Liberation Serif", serif' text-anchor="middle" text-rendering="geometricPrecision" transform="translate(588.40,284.00) scale(1.0,1)">4.75</text>
<text x="0" y="0" font-size="13.6" font-family='"Liberation Serif", serif' text-anchor="middle" text-rendering="geometricPrecision" transform="translate(624.65,284.00) scale(1.0,1)">5.00</text>
<text x="0" y="0" font-size="13.6" font-family='"Liberation Serif", serif' text-anchor="middle" text-rendering="geometricPrecision" transform="translate(660.90,284.00) scale(1.0,1)">5.25</text></svg></body></html>
